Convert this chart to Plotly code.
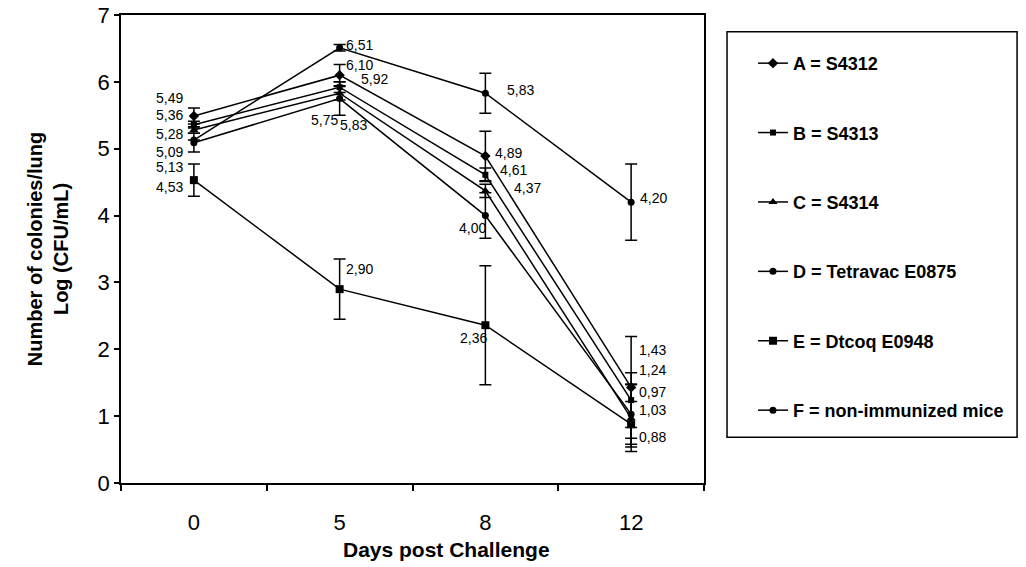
import plotly.graph_objects as go

days = ["0", "5", "8", "12"]
names = ["A = S4312", "B = S4313", "C = S4314", "D = Tetravac E0875",
         "E = Dtcoq E0948", "F = non-immunized mice"]
A = [5.49, 6.10, 4.89, 1.43]
B = [5.36, 5.92, 4.61, 1.24]
C = [5.28, 5.83, 4.37, 0.97]
D = [5.09, 5.75, 4.00, 1.03]
E = [4.53, 2.90, 2.36, 0.88]
F = [5.13, 6.51, 5.83, 4.20]
A_err = [0.12, 0.16, 0.37, 0.76]
B_err = [0.05, 0.08, 0.10, 0.41]
C_err = [0.05, 0.10, 0.10, 0.50]
D_err = [0.14, 0.25, 0.34, 0.45]
E_err = [0.24, 0.45, 0.89, 0.34]
F_err = [0.00, 0.05, 0.30, 0.57]
series = [A, B, C, D, E, F]
errors = [A_err, B_err, C_err, D_err, E_err, F_err]
x_title = "Days post Challenge"
y_title = "Number of colonies/lung<br>Log (CFU/mL)"

# styles
symbols = ["diamond", "square", "triangle-up", "circle", "square", "circle"]
msizes = [8, 6, 8, 7, 8, 7]
# label offsets in pixels (dx, dy-up) per series, per day
label_off = [
    [(-24, 18), (20, 10), (23, 3), (21, 37)],
    [(-24, 10), (35, 8), (28, 5), (21, 30)],
    [(-24, -4), (14, -32), (42, 3), (21, 26)],
    [(-24, -9), (-15, -21), (-13, -12), (21, 4)],
    [(-24, -7), (20, 20), (-12, -13), (21, -13)],
    [(-24, -27), (20, 3), (35, 3), (22, 4)],
]

FONT = "Liberation Sans, Arial, sans-serif"
fig = go.Figure()
for i, (nm, vals, err) in enumerate(zip(names, series, errors)):
    fig.add_trace(go.Scatter(
        x=days, y=vals, mode="lines+markers", name="<b>" + nm + "</b>",
        legendgroup=str(i),
        line=dict(color="black", width=1.5),
        marker=dict(symbol=symbols[i], size=msizes[i], color="black"),
        error_y=dict(type="data", array=err, visible=True, color="black",
                     thickness=1.5, width=6),
    ))

anns = []
for i, vals in enumerate(series):
    for j, v in enumerate(vals):
        dx, dy = label_off[i][j]
        anns.append(dict(x=j, y=v, xref="x", yref="y",
                         text=f"{v:.2f}".replace(".", ","), showarrow=False,
                         xshift=dx, yshift=dy,
                         font=dict(family=FONT, size=14, color="black")))
anns.append(dict(x=0.559, y=-0.143, xref="paper", yref="paper",
                 text="<b>" + x_title + "</b>", showarrow=False,
                 xanchor="center", yanchor="middle",
                 font=dict(family=FONT, size=21, color="black")))

fig.update_layout(
    width=1026, height=567,
    margin=dict(l=121, r=322, t=15, b=84, autoexpand=False),
    paper_bgcolor="white", plot_bgcolor="white",
    font=dict(family=FONT, color="black"),
    annotations=anns,
    showlegend=True,
    legend=dict(x=1.084, y=0.936, xanchor="left", yanchor="top",
                font=dict(family=FONT, size=18, color="black"),
                tracegroupgap=43, bgcolor="rgba(0,0,0,0)"),
    shapes=[dict(type="rect", xref="paper", yref="paper",
                 x0=1.0395, x1=1.537, y0=0.098, y1=0.964,
                 line=dict(color="black", width=1.5))],
)
fig.update_xaxes(
    type="category", range=[-0.5, 3.5], tickson="boundaries",
    ticks="outside", ticklen=6, tickcolor="black", tickwidth=1.5,
    showline=True, linecolor="black", linewidth=1.5, mirror=True,
    showgrid=False, zeroline=False, automargin=False,
    tickfont=dict(family=FONT, size=22), ticklabelstandoff=19,
)
fig.update_yaxes(
    range=[0, 7], dtick=1, ticks="outside", ticklen=5, tickcolor="black",
    tickwidth=1.5, showline=True, linecolor="black", linewidth=1.5, mirror=True,
    showgrid=False, zeroline=False, automargin=False,
    ticklabeloverflow="allow",
    tickfont=dict(family=FONT, size=22),
    title=dict(text="<b>" + y_title + "</b>",
               font=dict(family=FONT, size=20), standoff=24),
)
fig.write_html("out.html", config={"displayModeBar": False},
               post_script="document.body.style.margin='0';")
